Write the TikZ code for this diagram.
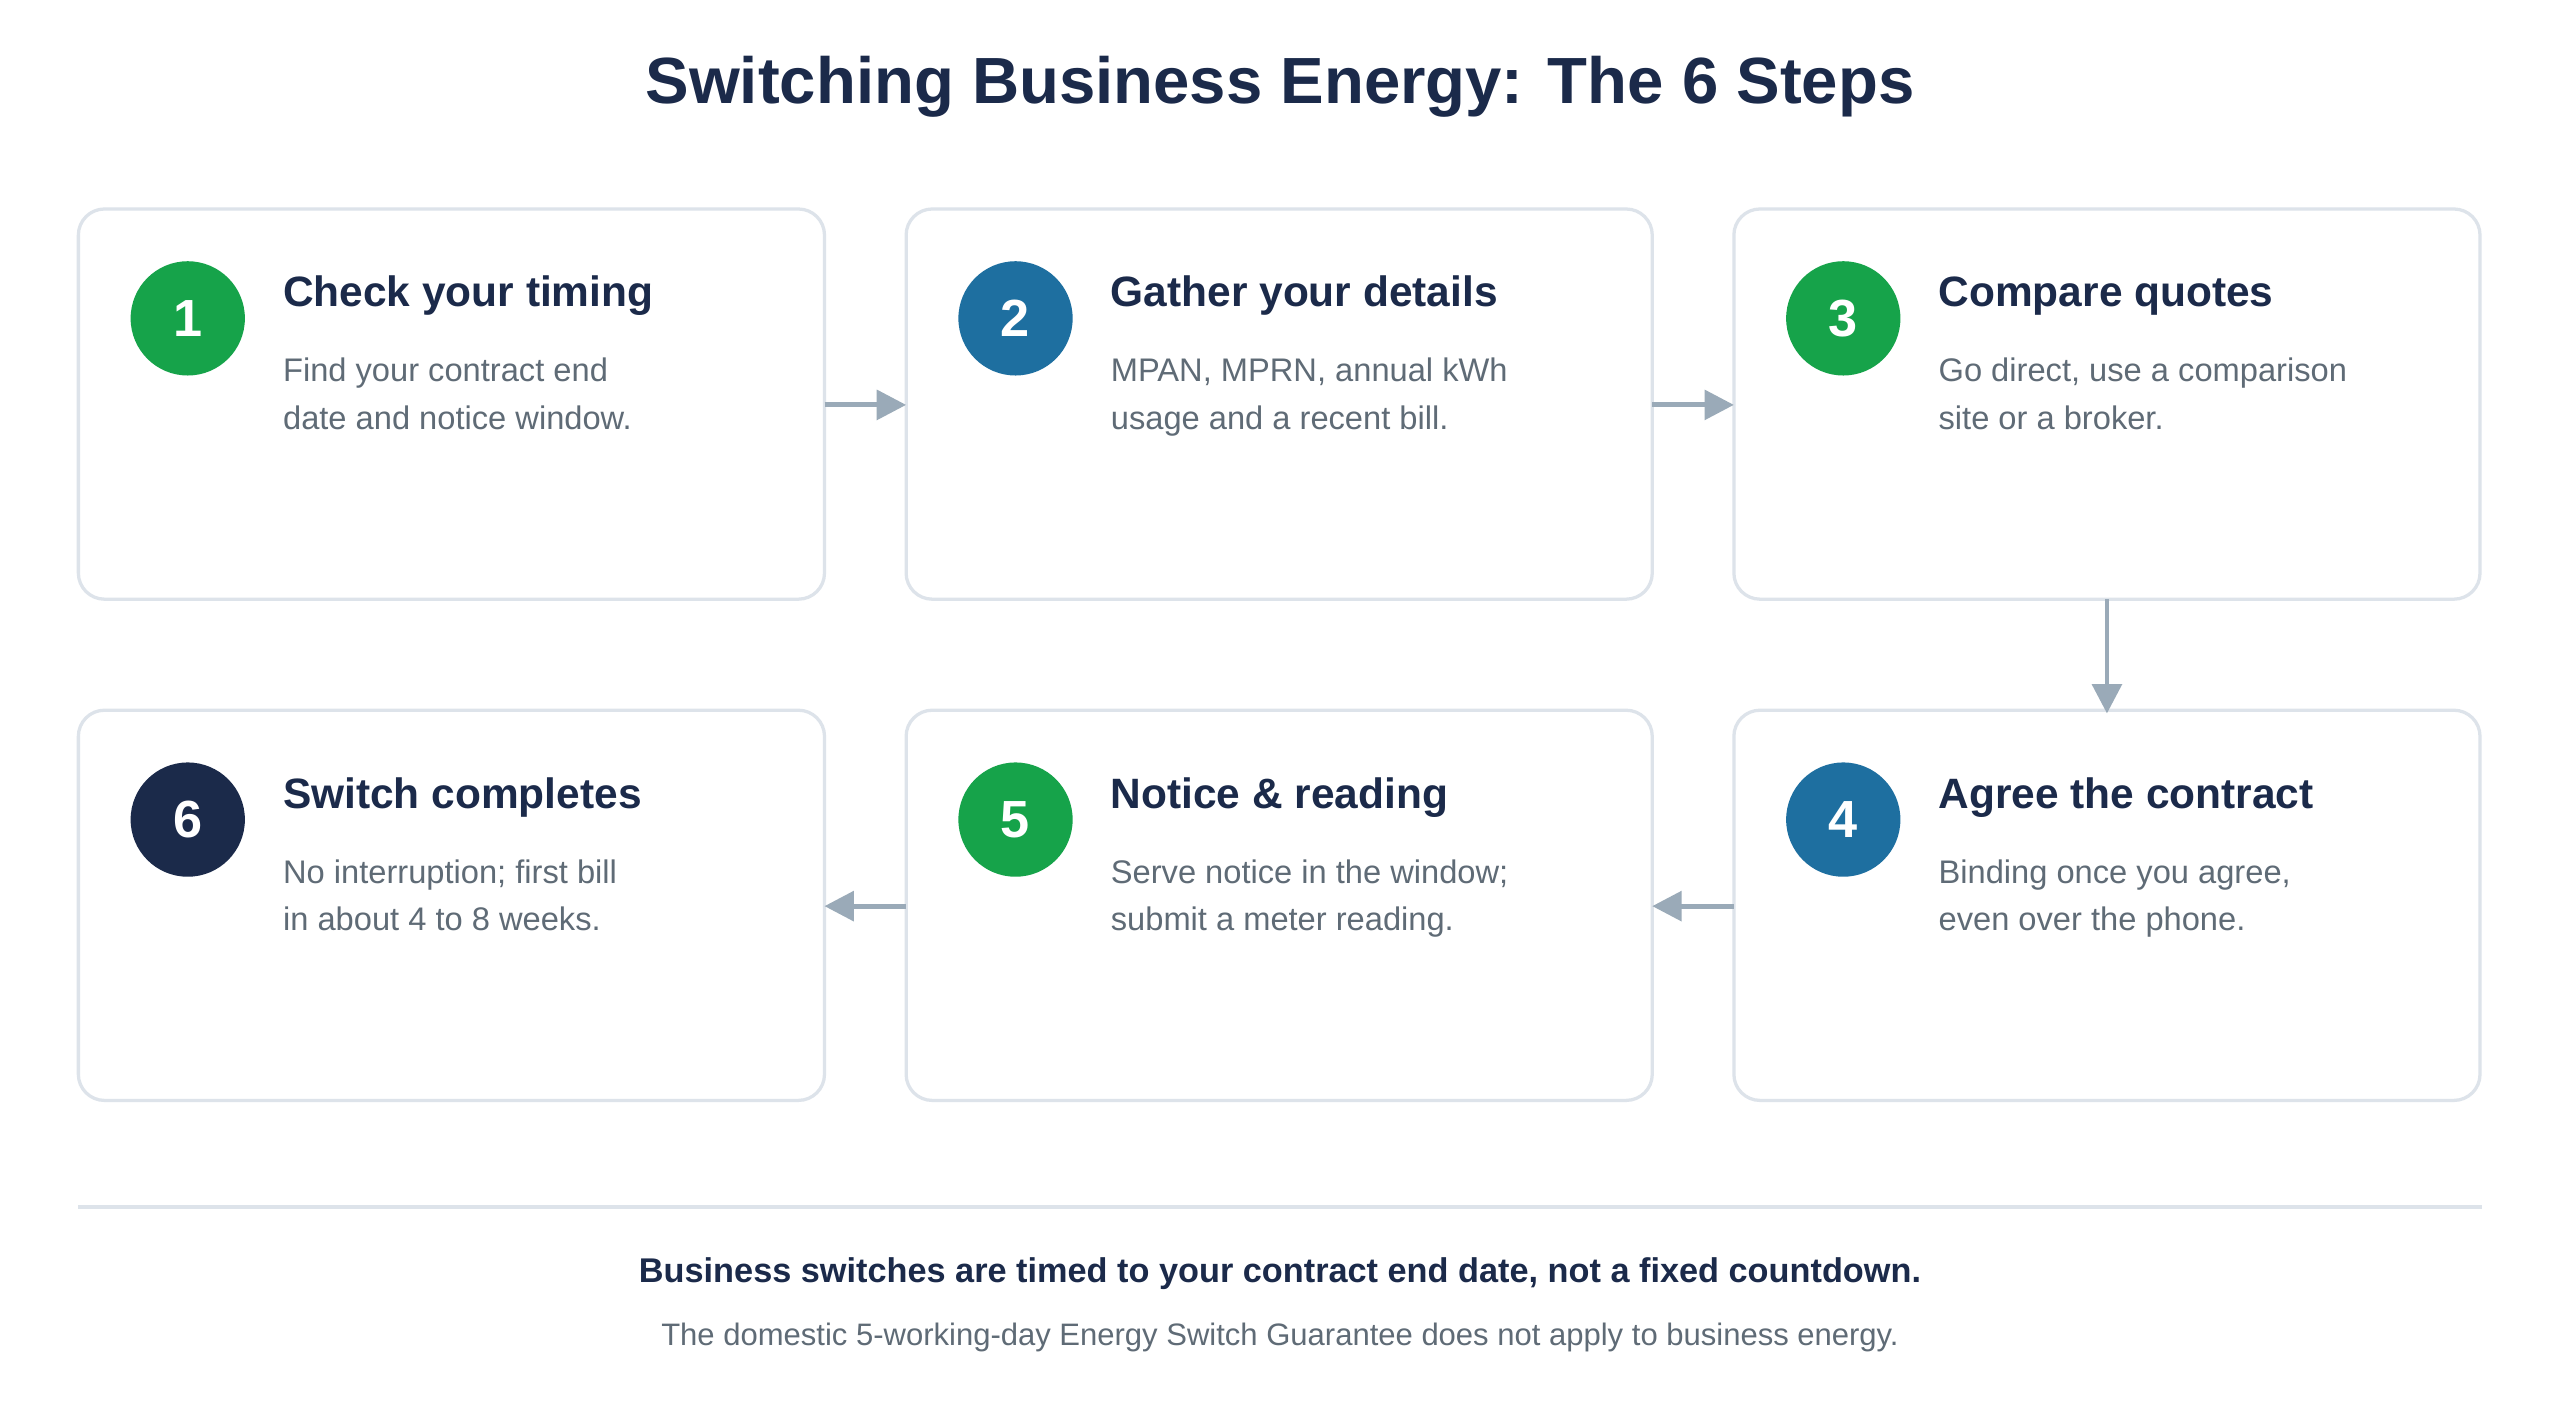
\documentclass[tikz,border=0pt]{standalone}
\usepackage{fontspec}
\setmainfont{Liberation Sans}
\usetikzlibrary{arrows.meta}
\definecolor{navy}{HTML}{1B2A4A}
\definecolor{grn}{HTML}{16A34A}
\definecolor{blu}{HTML}{1E6FA0}
\definecolor{txt}{HTML}{5F6B76}
\definecolor{arr}{HTML}{9AAAB8}
\definecolor{brd}{HTML}{DDE3EA}
\begin{document}
\begin{tikzpicture}[x=0.5pt,y=-0.5pt,
 box/.style={draw=brd,line width=1pt,rounded corners=8pt,fill=white},
 num/.style={circle,minimum size=35pt,inner sep=0pt,text=white,font=\fontsize{16}{16}\selectfont\bfseries},
 ttl/.style={anchor=base west,text=navy,font=\fontsize{13}{13}\selectfont\bfseries,inner sep=0pt},
 bdy/.style={anchor=north west,text=txt,font=\fontsize{10}{14.5}\selectfont,align=left,inner sep=0pt},
 conn/.style={draw=arr,line width=1.5pt,-{Triangle[length=9pt,width=9pt]}}]
\useasboundingbox[fill=white] (0,0) rectangle (1568,872);
\node[text=navy,font=\fontsize{20}{20}\selectfont\bfseries] (title) at (784,53) {Switching Business Energy: The 6 Steps};
\foreach \n/\x/\y/\c/\t/\b in {
 1/48/128/grn/Check your timing/{Find your contract end\\date and notice window.},
 2/555/128/blu/Gather your details/{MPAN, MPRN, annual kWh\\usage and a recent bill.},
 3/1062/128/grn/Compare quotes/{Go direct, use a comparison\\site or a broker.},
 4/1062/435/blu/Agree the contract/{Binding once you agree,\\even over the phone.},
 5/555/435/grn/Notice \& reading/{Serve notice in the window;\\submit a meter reading.},
 6/48/435/navy/Switch completes/{No interruption; first bill\\in about 4 to 8 weeks.}}{
 \draw[box] (\x,\y) rectangle ++(457,239);
 \path (\x,\y) coordinate (b\n) (\x+457,\y+120) coordinate (r\n) (\x,\y+120) coordinate (l\n)
   (\x+228.5,\y) coordinate (t\n) (\x+228.5,\y+239) coordinate (d\n);
 \node[num,fill=\c] (c\n) at (\x+67,\y+67) {\n};
 \node[ttl] (h\n) at (\x+125,\y+60) {\t};
 \node[bdy] (x\n) at (\x+125,\y+91) {\b};
}
\draw[conn] (r1) -- (l2);
\draw[conn] (r2) -- (l3);
\draw[conn] (d3) -- ([yshift=-1pt]t4);
\draw[conn] (l4) -- (r5);
\draw[conn] (l5) -- (r6);
\draw[brd,line width=1.2pt] (48,739) coordinate (s1) -- (1520,739) coordinate (s2);
\node[text=navy,font=\fontsize{10.5}{10.5}\selectfont\bfseries] (f1) at (784,780) {Business switches are timed to your contract end date, not a fixed countdown.};
\node[text=txt,font=\fontsize{9.5}{9.5}\selectfont] (f2) at (784,819) {The domestic 5-working-day Energy Switch Guarantee does not apply to business energy.};
\end{tikzpicture}
\end{document}
